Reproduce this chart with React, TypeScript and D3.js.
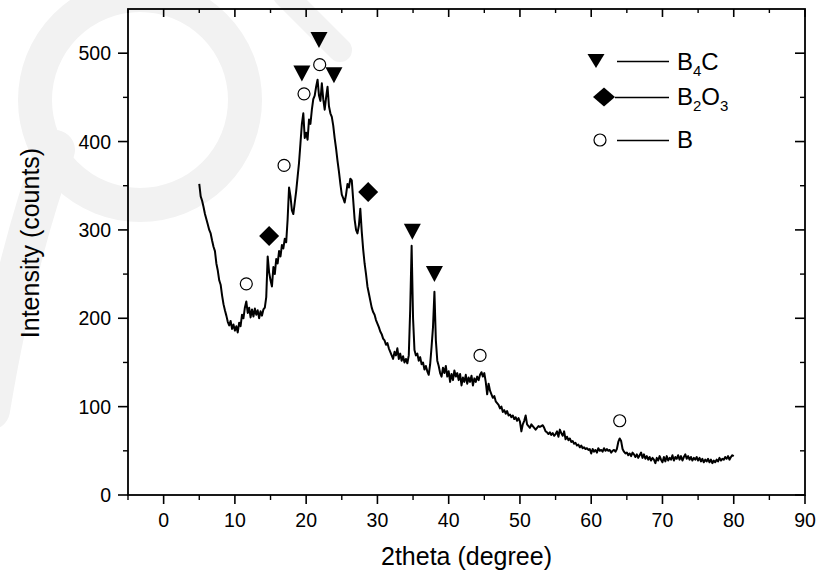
import * as d3 from 'd3';

// XRD scan: 5° to 80°, 0.2° step
const startAngle = 5;
const stepAngle = 0.2;
const intensity = [
  352, 338, 333, 326, 318, 312, 306, 300, 296, 288,
  281, 276, 262, 254, 243, 238, 226, 216, 209, 203,
  196, 192, 197, 188, 193, 186, 191, 184, 195, 191,
  204, 200, 212, 219, 206, 212, 201, 210, 202, 211,
  204, 209, 200, 208, 203, 210, 212, 224, 270, 252,
  243, 236, 258, 250, 267, 262, 276, 270, 283, 279,
  290, 286, 312, 348, 338, 322, 318, 331, 344, 360,
  376, 398, 420, 432, 404, 410, 402, 425, 420, 436,
  448, 452, 462, 470, 452, 446, 466, 448, 436, 450,
  462, 440, 432, 428, 418, 404, 392, 378, 366, 352,
  340, 336, 331, 340, 352, 348, 358, 356, 334, 312,
  300, 296, 305, 324, 298, 278, 262, 250, 236, 228,
  220, 212, 207, 204, 198, 194, 190, 185, 182, 177,
  175, 170, 172, 166, 162, 158, 154, 162, 158, 166,
  154, 160, 152, 157, 150, 154, 149, 158, 210, 282,
  200, 164, 158, 160, 152, 156, 148, 150, 142, 146,
  140, 136, 148, 168, 190, 230, 175, 152, 146, 138,
  134, 144, 138, 146, 134, 140, 128, 137, 130, 141,
  134, 138, 130, 137, 124, 133, 128, 136, 126, 133,
  128, 135, 124, 132, 128, 134, 130, 136, 139, 134,
  138, 128, 114, 126, 118, 114, 110, 112, 106, 104,
  102, 98, 100, 94, 96, 92, 95, 90, 91, 88,
  90, 86, 88, 84, 87, 83, 72, 80, 84, 90,
  80, 78, 76, 80, 78, 76, 74, 76, 78, 77,
  78, 79, 76, 72, 71, 69, 71, 68, 70, 67,
  69, 72, 66, 74, 70, 67, 72, 63, 66, 62,
  64, 60, 61, 58, 59, 56, 57, 54, 56, 53,
  54, 52, 53, 51, 52, 47, 52, 49, 51, 48,
  53, 50, 51, 49, 53, 50, 52, 50, 51, 48,
  50, 51, 49, 52, 60, 64, 61, 52, 49, 47,
  48, 45, 47, 44, 48, 46, 43, 46, 42, 45,
  48, 42, 46, 41, 44, 40, 43, 39, 42, 40,
  36, 42, 39, 44, 40, 37, 43, 38, 44, 39,
  42, 40, 45, 39, 43, 41, 45, 40, 44, 39,
  43, 46, 41, 44, 40, 43, 39, 42, 40, 43,
  39, 42, 38, 41, 37, 40, 38, 41, 37, 40,
  36, 39, 37, 40, 38, 42, 39, 41, 40, 43,
  41, 44, 40, 43, 45, 44,
];

// phase markers [2theta, intensity]
const b4cMarks = [[19.4, 477], [21.8, 515], [23.9, 475], [34.9, 298], [38.0, 250]];
const b2o3Marks = [[14.8, 293], [28.7, 343]];
const boronMarks = [[11.6, 239], [16.9, 373], [19.7, 454], [21.9, 487], [44.4, 158], [64.0, 84]];

const xTicks = [0, 10, 20, 30, 40, 50, 60, 70, 80, 90];
const xMinor = [-5, 5, 15, 25, 35, 45, 55, 65, 75, 85];
const yTicks = [0, 100, 200, 300, 400, 500];
const yMinor = [50, 150, 250, 350, 450];

const FONT = 'Liberation Sans, Arial, sans-serif';

const tri = (cx, cy, w, h) => `M${cx - w / 2},${cy - h / 2}L${cx + w / 2},${cy - h / 2}L${cx},${cy + h / 2}Z`;
const diamond = (cx, cy, w, h) => `M${cx},${cy - h / 2}L${cx + w / 2},${cy}L${cx},${cy + h / 2}L${cx - w / 2},${cy}Z`;

export default function App() {
  const x = d3.scaleLinear().domain([-5, 90]).range([128, 805]);
  const y = d3.scaleLinear().domain([0, 550]).range([495, 9]);
  const [x0, x1] = x.range();
  const [y0, y1] = y.range();

  const line = d3.line<number>()
    .x((d, i) => x(startAngle + i * stepAngle))
    .y(d => y(d));

  return (
    <svg width={830} height={573} style={{ position: 'absolute', left: 0, top: 0, background: '#fff' }}>
      {/* faint watermark */}
      <g fill="none" stroke="#f2f2f2" strokeLinecap="round">
        <circle cx={140} cy={100} r={105} strokeWidth={34} />
        <path d="M55,150 Q15,260 -10,410" strokeWidth={40} />
        <path d="M285,-5 L340,50" strokeWidth={24} />
      </g>

      <path d={line(intensity)} fill="none" stroke="#000" strokeWidth={2} strokeLinejoin="round" />

      {b4cMarks.map(([a, v], i) => (
        <path key={'t' + i} d={tri(x(a), y(v), 17, 16)} fill="#000" />
      ))}
      {b2o3Marks.map(([a, v], i) => (
        <path key={'d' + i} d={diamond(x(a), y(v), 20, 20)} fill="#000" />
      ))}
      {boronMarks.map(([a, v], i) => (
        <circle key={'c' + i} cx={x(a)} cy={y(v)} r={6} fill="#fff" stroke="#000" strokeWidth={1.2} />
      ))}

      {/* frame */}
      <rect x={x0} y={y1} width={x1 - x0} height={y0 - y1} fill="none" stroke="#000" strokeWidth={1.8} />

      {xTicks.map(t => (
        <g key={'xt' + t}>
          <line x1={x(t)} x2={x(t)} y1={y0} y2={y0 + 9} stroke="#000" strokeWidth={1.6} />
          <line x1={x(t)} x2={x(t)} y1={y1} y2={y1 + 8} stroke="#000" strokeWidth={1.6} />
          <text x={x(t)} y={527} textAnchor="middle" fontSize={19.5} fontFamily={FONT}>{t}</text>
        </g>
      ))}
      {xMinor.map(t => (
        <g key={'xm' + t}>
          <line x1={x(t)} x2={x(t)} y1={y0} y2={y0 + 5} stroke="#000" strokeWidth={1.4} />
          <line x1={x(t)} x2={x(t)} y1={y1} y2={y1 + 4} stroke="#000" strokeWidth={1.4} />
        </g>
      ))}
      {yTicks.map(t => (
        <g key={'yt' + t}>
          <line x1={x0 - 10} x2={x0} y1={y(t)} y2={y(t)} stroke="#000" strokeWidth={1.6} />
          <line x1={x1 - 10} x2={x1} y1={y(t)} y2={y(t)} stroke="#000" strokeWidth={1.6} />
          <text x={111} y={y(t) + 7} textAnchor="end" fontSize={19.5} fontFamily={FONT}>{t}</text>
        </g>
      ))}
      {yMinor.map(t => (
        <g key={'ym' + t}>
          <line x1={x0 - 5} x2={x0} y1={y(t)} y2={y(t)} stroke="#000" strokeWidth={1.4} />
          <line x1={x1 - 5} x2={x1} y1={y(t)} y2={y(t)} stroke="#000" strokeWidth={1.4} />
        </g>
      ))}

      <text x={(x0 + x1) / 2} y={565} textAnchor="middle" fontSize={25} fontFamily={FONT}>2theta (degree)</text>
      <text transform="translate(39,243) rotate(-90)" textAnchor="middle" fontSize={25} fontFamily={FONT}>Intensity (counts)</text>

      {/* legend */}
      <g fontFamily={FONT}>
        <path d={tri(596, 61, 17, 14)} fill="#000" />
        <line x1={617} x2={669} y1={61.5} y2={61.5} stroke="#000" strokeWidth={1.4} />
        <text x={677} y={70} fontSize={24}>B<tspan fontSize={15} dy={6}>4</tspan><tspan dy={-6}>C</tspan></text>

        <path d={diamond(604, 97, 22, 19)} fill="#000" />
        <line x1={615} x2={669} y1={97.5} y2={97.5} stroke="#000" strokeWidth={1.4} />
        <text x={677} y={105} fontSize={24}>B<tspan fontSize={15} dy={6}>2</tspan><tspan dy={-6}>O</tspan><tspan fontSize={15} dy={6}>3</tspan></text>

        <circle cx={600} cy={140} r={6} fill="#fff" stroke="#000" strokeWidth={1.2} />
        <line x1={617} x2={669} y1={140.5} y2={140.5} stroke="#000" strokeWidth={1.4} />
        <text x={677} y={148} fontSize={24}>B</text>
      </g>
    </svg>
  );
}
